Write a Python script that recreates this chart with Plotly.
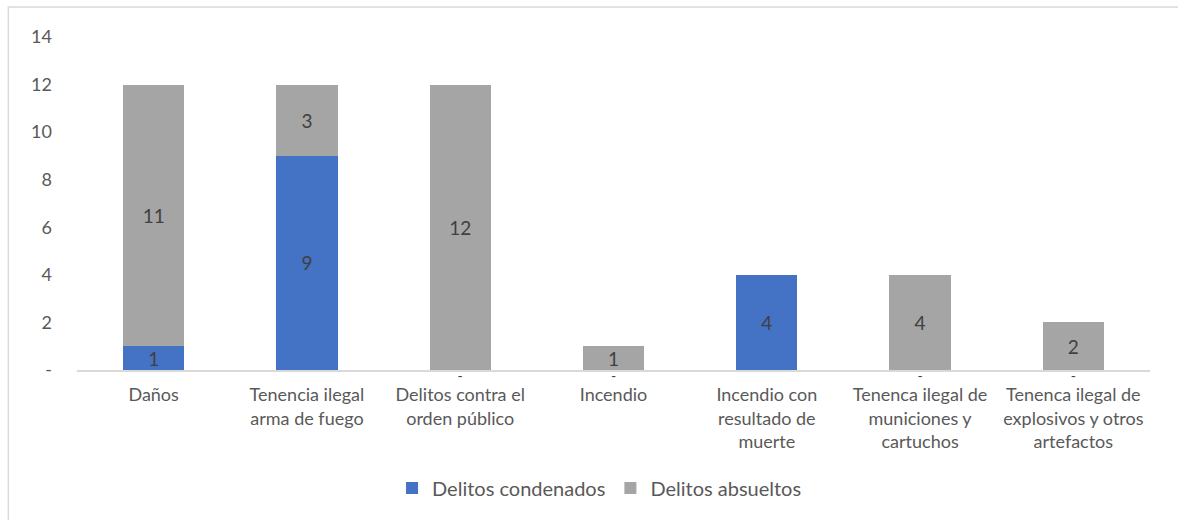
import plotly.graph_objects as go

categories = [
    "Daños",
    "Tenencia ilegal<br>arma de fuego",
    "Delitos contra el<br>orden público",
    "Incendio",
    "Incendio con<br>resultado de<br>muerte",
    "Tenenca ilegal de<br>municiones y<br>cartuchos",
    "Tenenca ilegal de<br>explosivos y otros<br>artefactos",
]
condenados = [1, 9, 0, 0, 4, 0, 0]
absueltos = [11, 3, 12, 1, 0, 4, 2]
y_ticks = [0, 2, 4, 6, 8, 10, 12, 14]
y_tick_labels = ["-", "2", "4", "6", "8", "10", "12", "14"]

FONT = "Lato"
BLUE = "#4472C4"
GRAY = "#A5A5A5"
LABEL = "#404040"
TICK = "#595959"


def seg_text(vals):
    return [str(v) if v else "" for v in vals]


fig = go.Figure()
fig.add_trace(go.Bar(
    x=categories, y=condenados, name="Delitos condenados",
    marker=dict(color=BLUE, line=dict(width=0)),
    text=seg_text(condenados), textposition="inside", insidetextanchor="middle",
    textangle=0, textfont=dict(family=FONT, size=19, color=LABEL),
    constraintext="none", cliponaxis=False,
))
fig.add_trace(go.Bar(
    x=categories, y=absueltos, name="Delitos absueltos",
    marker=dict(color=GRAY, line=dict(width=0)),
    text=seg_text(absueltos), textposition="inside", insidetextanchor="middle",
    textangle=0, textfont=dict(family=FONT, size=19, color=LABEL),
    constraintext="none", cliponaxis=False,
))
# zero-valued "condenados" segments carry a dash label just under the baseline
zero_cats = [c for c, v in zip(categories, condenados) if v == 0]
fig.add_trace(go.Scatter(
    x=zero_cats, y=[0] * len(zero_cats), mode="text", text=["-"] * len(zero_cats),
    textposition="bottom center", textfont=dict(family=FONT, size=14, color=LABEL),
    showlegend=False, hoverinfo="skip", cliponaxis=False,
))

fig.update_layout(
    width=1178, height=520,
    barmode="stack", bargap=0.6,
    paper_bgcolor="white", plot_bgcolor="white",
    margin=dict(l=77, r=28, t=37, b=150),
    font=dict(family=FONT, color=TICK, size=18),
    uniformtext=dict(minsize=8, mode="show"),
    legend=dict(
        orientation="h", x=0.487, xanchor="center", y=-0.354, yanchor="middle",
        font=dict(family=FONT, size=20, color=TICK),
        itemwidth=30, traceorder="normal",
    ),
    shapes=[dict(
        type="rect", xref="paper", yref="paper",
        x0=-0.064, x1=1.05, y0=-0.5, y1=1.09,
        line=dict(color="#D9D9D9", width=1.5), fillcolor="rgba(0,0,0,0)",
        layer="below",
    )],
)
fig.update_xaxes(
    showline=True, linecolor="#D9D9D9", linewidth=1.5,
    ticks="", tickfont=dict(family=FONT, size=18, color=TICK),
    showgrid=False, ticklabelstandoff=8,
)
fig.update_yaxes(
    range=[0, 14], tickvals=y_ticks, ticktext=y_tick_labels,
    showgrid=False, zeroline=False, showline=False, ticks="",
    tickfont=dict(family=FONT, size=18, color=TICK), ticklabelstandoff=24,
)

fig.write_html("out.html")
